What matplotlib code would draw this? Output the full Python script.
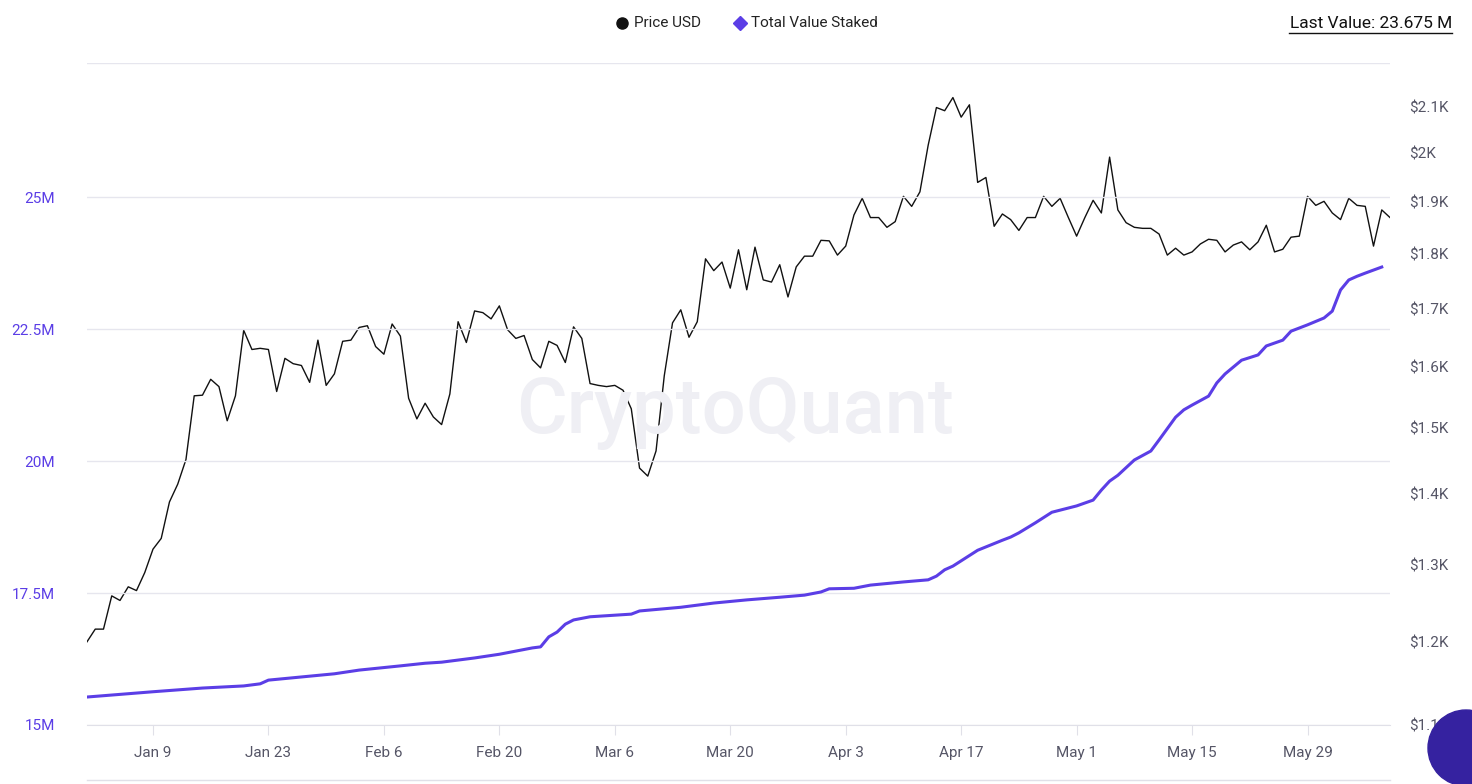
import numpy as np
import matplotlib
matplotlib.use("Agg")
import matplotlib.pyplot as plt
import matplotlib.dates as mdates
from matplotlib.ticker import FixedLocator, NullLocator
from matplotlib.patches import Ellipse
import datetime as dt

plt.rcParams["font.family"] = "Roboto"

start_date = dt.date(2023, 1, 1)
price_usd = [1200, 1216, 1216, 1259, 1253, 1271, 1266, 1290, 1322, 1337, 1389, 1415, 1452, 1552, 1553,
             1579, 1567, 1512, 1552, 1662, 1629, 1631, 1629, 1559, 1614, 1605, 1602, 1574, 1645, 1569,
             1588, 1643, 1645, 1667, 1670, 1634, 1621, 1673, 1652, 1548, 1515, 1540, 1518, 1506, 1555,
             1677, 1641, 1696, 1693, 1682, 1705, 1663, 1648, 1653, 1612, 1598, 1643, 1636, 1607, 1668,
             1648, 1572, 1569, 1567, 1569, 1561, 1531, 1439, 1427, 1465, 1585, 1675, 1698, 1650, 1677,
             1791, 1769, 1785, 1737, 1808, 1734, 1813, 1752, 1748, 1780, 1721, 1776, 1796, 1796, 1826,
             1825, 1798, 1815, 1875, 1908, 1870, 1870, 1851, 1862, 1912, 1892, 1921, 2017, 2098, 2091,
             2120, 2077, 2104, 1940, 1950, 1853, 1877, 1866, 1845, 1870, 1870, 1912, 1892, 1908, 1870,
             1834, 1870, 1904, 1879, 1992, 1885, 1860, 1851, 1849, 1849, 1838, 1798, 1811, 1798, 1804,
             1819, 1828, 1826, 1804, 1817, 1823, 1808, 1823, 1855, 1804, 1809, 1832, 1834, 1912, 1894,
             1902, 1879, 1866, 1908, 1894, 1892, 1815, 1885, 1870]

staked_day = [0, 8, 14, 19, 21, 22, 26, 30, 33, 38, 41, 43, 47, 50, 54, 55, 56, 57, 58, 59, 61, 66, 67,
              72, 76, 80, 84, 87, 89, 90, 93, 95, 99, 102, 103, 104, 105, 106, 108, 111, 112, 113, 115,
              117, 120, 122, 123, 124, 125, 127, 129, 130, 132, 133, 134, 136, 137, 138, 140, 142, 143,
              145, 146, 148, 150, 151, 152, 153, 154, 155, 157]
staked_m = [15.53, 15.63, 15.70, 15.74, 15.78, 15.85, 15.91, 15.97, 16.04, 16.12, 16.17, 16.19, 16.27,
            16.34, 16.46, 16.48, 16.67, 16.76, 16.91, 16.99, 17.05, 17.10, 17.16, 17.23, 17.31, 17.37,
            17.42, 17.46, 17.52, 17.58, 17.59, 17.65, 17.71, 17.75, 17.82, 17.94, 18.01, 18.11, 18.31,
            18.50, 18.56, 18.64, 18.83, 19.03, 19.15, 19.26, 19.45, 19.62, 19.73, 20.02, 20.19, 20.40,
            20.83, 20.97, 21.06, 21.23, 21.48, 21.65, 21.91, 22.01, 22.18, 22.29, 22.46, 22.58, 22.71,
            22.84, 23.24, 23.43, 23.50, 23.56, 23.675]

left_ticks = [15, 17.5, 20, 22.5, 25]
left_labels = ["15M", "17.5M", "20M", "22.5M", "25M"]
right_ticks = [1100, 1200, 1300, 1400, 1500, 1600, 1700, 1800, 1900, 2000, 2100]
right_labels = ["$1.1K", "$1.2K", "$1.3K", "$1.4K", "$1.5K", "$1.6K", "$1.7K", "$1.8K", "$1.9K", "$2K", "$2.1K"]
x_ticks = ["2023-01-09", "2023-01-23", "2023-02-06", "2023-02-20", "2023-03-06", "2023-03-20",
           "2023-04-03", "2023-04-17", "2023-05-01", "2023-05-15", "2023-05-29"]

price_dates = [start_date + dt.timedelta(days=i) for i in range(len(price_usd))]
staked_dates = [start_date + dt.timedelta(days=d) for d in staked_day]

W, H = 1472, 784
fig = plt.figure(figsize=(W/100, H/100), dpi=100)
ax = fig.add_axes([87/W, 1-725/H, (1390-87)/W, (725-63)/H])
ax2 = ax.twinx()

purple = "#5b3ee6"
ax.plot(staked_dates, staked_m, color=purple, lw=2.2, zorder=3)
ax.set_ylim(15, 27.54)
ax.yaxis.set_major_locator(FixedLocator(left_ticks))
ax.set_yticklabels(left_labels)
ax.grid(axis="y", color="#e6e6ee", lw=1)
ax.axhline(27.54, color="#e6e6ee", lw=1)

ax2.plot(price_dates, price_usd, color="#111111", lw=1.0, zorder=4)
ax2.set_yscale("log")
ax2.set_ylim(1100, 2198)
ax2.yaxis.set_major_locator(FixedLocator(right_ticks))
ax2.yaxis.set_minor_locator(NullLocator())
ax2.set_yticklabels(right_labels)

ax.set_xlim(start_date, dt.date(2023, 6, 8))
ax.set_xticks([dt.date.fromisoformat(s) for s in x_ticks])
ax.xaxis.set_major_formatter(mdates.DateFormatter("%b %-d"))

for a in (ax, ax2):
    for s in a.spines.values():
        s.set_visible(False)
ax.spines["bottom"].set_visible(True)
ax.spines["bottom"].set_color("#e0e0e8")
ax.tick_params(axis="x", colors="#e0e0e8", labelcolor="#555566", labelsize=11, length=7, pad=8)
ax.tick_params(axis="y", length=0, labelcolor=purple, labelsize=11, pad=23)
ax2.tick_params(axis="y", length=0, labelcolor="#555566", labelsize=11, pad=14)
ax.set_zorder(ax2.get_zorder() + 1)
ax.patch.set_visible(False)

fig.text(735/W, 1-413/H, "CryptoQuant", fontsize=56, color="#efeff4", ha="center", va="center",
         fontweight="medium", zorder=0)

fig.lines.append(plt.Line2D([87/W, 1390/W], [1-780/H]*2, color="#e0e0e8", lw=1, transform=fig.transFigure))

fig.lines.append(plt.Line2D([622/W], [1-23/H], marker="o", markersize=8, color="#111111", transform=fig.transFigure))
fig.text(634/W, 1-23/H, "Price USD", color="#222222", fontsize=11, va="center")
fig.lines.append(plt.Line2D([740/W], [1-23/H], marker="D", markersize=7, color=purple, transform=fig.transFigure))
fig.text(751/W, 1-23/H, "Total Value Staked", color="#222222", fontsize=11, va="center")
fig.text(1452/W, 1-24/H, "Last Value: 23.675 M", color="#111111", fontsize=12.5, ha="right", va="center")
fig.lines.append(plt.Line2D([1289/W, 1452/W], [1-33/H]*2, color="#111111", lw=1, transform=fig.transFigure))

circ = Ellipse((1466/W, 1-748/H), 76/W, 76/H, transform=fig.transFigure, color="#3522a0", zorder=10)
fig.patches.append(circ)

fig.savefig("out.png", dpi=100)
